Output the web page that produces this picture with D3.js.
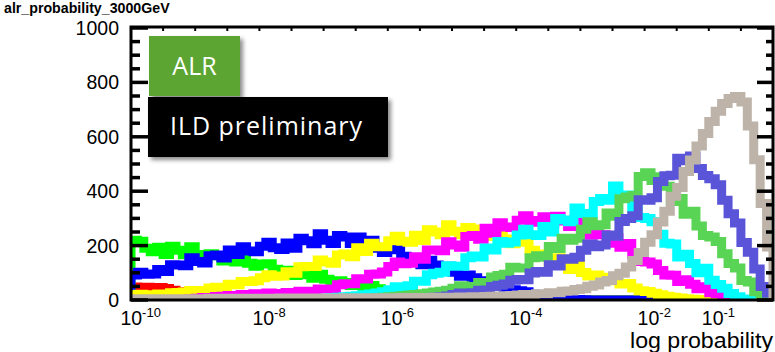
<!DOCTYPE html>
<html>
<head>
<meta charset="utf-8">
<script src="https://cdn.jsdelivr.net/npm/d3@7"></script>
<style>
  html, body { margin: 0; padding: 0; background: #fff; }
  svg { display: block; }
</style>
</head>
<body>
<script>
// Histogram binning in log10(probability): 100 bins of 0.1 decade
const binLow = -10.15;
const binWidth = 0.1;

// Bin contents, one array per sample (100 bins each)
const hRed = [
  48,44,47,43,46,42,36,30,24,21,
  19,17,16,14,13,12,10,9,8,7,
  6,5,4,3,3,2,2,1,1,0,
  0,0,0,0,0,0,0,0,0,0,
  0,0,0,0,0,0,0,0,0,0,
  0,0,0,0,0,0,0,0,0,0,
  0,0,0,0,0,0,0,0,0,0,
  0,0,0,0,0,0,0,0,0,0,
  0,0,0,0,0,0,0,0,0,0,
  0,0,0,0,0,0,0,0,0,0
];
const hGreen = [
  220,216,190,177,194,167,198,183,166,196,
  167,152,170,163,143,163,140,158,135,124,
  132,133,113,102,109,90,105,93,80,95,
  76,66,71,64,53,60,47,53,41,34,
  34,31,25,23,17,14,10,7,4,2,
  1,0,0,0,0,0,0,0,0,0,
  0,0,0,0,0,0,0,0,0,0,
  0,0,0,0,0,0,0,0,0,0,
  0,0,0,0,0,0,0,0,0,0,
  0,0,0,0,0,0,0,0,0,0
];
const hBlue = [
  92,102,95,96,112,105,130,129,126,155,
  142,136,163,165,154,184,167,196,180,177,
  198,212,192,186,210,190,227,218,207,244,
  220,208,237,232,208,232,200,220,190,175,
  185,187,161,147,155,130,146,129,113,124,
  102,87,92,82,68,71,57,57,46,38,
  34,30,21,19,13,11,7,5,3,2,
  1,0,0,0,0,0,0,0,0,0,
  0,0,0,0,0,0,0,0,0,0,
  0,0,0,0,0,0,0,0,0,0
];
const hYellow = [
  19,21,19,19,22,22,27,28,29,35,
  35,35,44,47,47,58,56,68,68,71,
  82,93,87,88,104,98,122,123,123,147,
  140,135,165,169,159,192,178,209,196,196,
  218,234,216,212,238,219,258,250,240,277,
  253,240,267,261,238,263,233,254,224,207,
  214,212,183,164,169,139,155,135,112,130,
  101,88,92,84,71,76,59,61,44,34,
  31,25,19,14,10,7,5,3,2,1,
  0,0,0,0,0,0,0,0,0,0
];
const hMagenta = [
  0,0,0,0,0,0,0,0,2,4,
  6,9,9,13,14,17,16,20,18,23,
  23,26,23,24,28,25,32,32,32,40,
  40,40,56,60,60,78,77,95,96,103,
  123,140,133,135,159,150,184,184,181,214,
  202,194,233,237,223,264,245,284,268,267,
  293,310,292,286,306,279,308,290,270,297,
  262,238,255,240,209,229,194,208,168,142,
  140,132,108,92,91,68,74,58,41,49,
  27,23,13,9,3,0,0,0,0,0
];
const hCyan = [
  0,0,0,0,0,0,0,0,0,0,
  0,0,0,0,0,0,0,0,0,0,
  0,0,0,0,0,0,0,0,2,4,
  6,8,10,12,14,16,19,22,26,30,
  38,49,48,52,69,69,93,98,102,126,
  124,124,155,162,158,191,184,215,209,213,
  239,260,240,237,270,250,300,294,288,338,
  318,314,362,373,367,419,375,386,336,303,
  300,288,242,209,206,158,168,134,100,117,
  73,57,43,24,12,4,0,0,0,0
];
const hGreen8 = [
  0,0,0,0,0,0,0,0,0,0,
  0,0,0,0,0,0,0,0,0,0,
  0,0,0,0,0,0,0,0,0,0,
  1,1,2,2,3,4,5,6,8,10,
  12,14,16,18,20,23,26,29,32,36,
  43,52,48,50,64,62,85,90,95,120,
  118,118,155,163,157,197,189,227,220,227,
  260,288,273,277,320,308,372,379,384,454,
  468,439,453,418,362,373,315,326,272,237,
  232,215,170,134,118,72,66,30,8,2
];
const hViolet = [
  0,0,0,0,0,0,0,0,0,0,
  0,0,0,0,0,0,0,0,0,0,
  0,0,0,0,0,0,0,0,0,0,
  0,0,0,0,0,0,0,0,0,0,
  1,2,3,4,5,6,8,10,12,15,
  20,26,25,27,36,37,50,54,59,73,
  75,74,99,105,102,130,125,152,150,157,
  183,206,196,202,239,234,289,300,310,369,
  367,376,436,457,459,521,512,529,483,458,
  446,424,367,317,283,211,176,114,50,25
];
const hTan = [
  4,5,4,5,4,5,5,4,5,5,
  5,5,6,5,6,5,6,6,5,6,
  6,6,6,7,6,7,6,7,7,6,
  7,7,7,8,7,8,8,7,8,8,
  8,8,9,8,9,9,9,10,9,10,
  10,11,11,12,12,13,14,15,16,17,
  18,20,20,23,23,27,27,32,33,39,
  41,51,55,66,72,89,98,121,145,175,
  212,240,287,326,381,414,472,515,566,612,
  656,694,722,741,748,728,640,516,355,195
];

// Drawing order and colours
const histograms = [hRed, hGreen, hBlue, hYellow, hMagenta, hCyan, hGreen8, hViolet, hTan];
const lineColors = ["#ff0000", "#00ff00", "#0000ff", "#ffff00", "#ff00ff", "#00ffff", "#59d454", "#5954d8", "#bdb3a8"];

// Axis ticks
const xTickExponents = [-10, -8, -6, -4, -2, -1];
const yMajorTicks = [0, 200, 400, 600, 800, 1000];
const yMinorTicks = d3.range(0, 1001, 50);

const W = 775, H = 352;
const frame = { left: 131, right: 773, top: 27, bottom: 300 };

const svg = d3.select("body").append("svg")
  .attr("width", W).attr("height", H)
  .attr("viewBox", `0 0 ${W} ${H}`);

const x = d3.scaleLinear().domain([binLow, binLow + 100 * binWidth]).range([frame.left, frame.right]);
const y = d3.scaleLinear().domain([0, 1000]).range([frame.bottom, 28]);

const defs = svg.append("defs");
defs.append("clipPath").attr("id", "plotClip")
  .append("rect")
  .attr("x", frame.left).attr("y", frame.top)
  .attr("width", frame.right - frame.left).attr("height", frame.bottom - frame.top);

const shadow = defs.append("filter").attr("id", "boxShadow")
  .attr("x", "-10%").attr("y", "-10%").attr("width", "130%").attr("height", "140%");
shadow.append("feDropShadow")
  .attr("dx", 3).attr("dy", 3).attr("stdDeviation", 2.2)
  .attr("flood-color", "#000").attr("flood-opacity", 0.45);

// Histogram outlines as thick step lines
const step = d3.line().curve(d3.curveStepAfter).x(d => x(d[0])).y(d => y(d[1]));
const plotG = svg.append("g").attr("clip-path", "url(#plotClip)");
histograms.forEach((h, k) => {
  const n = h.length;
  const pts = [[binLow, 0]];
  h.forEach((v, i) => pts.push([binLow + i * binWidth, v]));
  pts.push([binLow + n * binWidth, h[n - 1]]);
  pts.push([binLow + n * binWidth, 0]);
  plotG.append("path")
    .attr("d", step(pts))
    .attr("fill", "none")
    .attr("stroke", lineColors[k])
    .attr("stroke-width", 9)
    .attr("stroke-linejoin", "miter");
});

// Frame
const axisG = svg.append("g");
axisG.append("rect")
  .attr("x", frame.left).attr("y", frame.top)
  .attr("width", frame.right - frame.left).attr("height", frame.bottom - frame.top)
  .attr("fill", "none").attr("stroke", "#000").attr("stroke-width", 3);

// Y ticks on left and right
yMinorTicks.forEach(v => {
  const major = yMajorTicks.includes(v);
  axisG.append("line")
    .attr("x1", frame.left).attr("x2", frame.left + (major ? 17 : 9))
    .attr("y1", y(v)).attr("y2", y(v))
    .attr("stroke", "#000").attr("stroke-width", 3.5);
  axisG.append("line")
    .attr("x1", frame.right).attr("x2", frame.right - (major ? 16 : 7))
    .attr("y1", y(v)).attr("y2", y(v))
    .attr("stroke", "#000").attr("stroke-width", 3.5);
});

// Small ticks along the top edge
d3.range(-9.65, -0.5, 0.5).forEach(v => {
  axisG.append("line")
    .attr("x1", x(v)).attr("x2", x(v))
    .attr("y1", frame.top).attr("y2", frame.top + 4)
    .attr("stroke", "#000").attr("stroke-width", 2);
});

// Y tick labels
svg.append("g").selectAll("text").data(yMajorTicks).join("text")
  .attr("x", 119).attr("y", d => y(d)).attr("dy", "0.36em")
  .attr("text-anchor", "end")
  .attr("font-family", "'Liberation Sans', Arial, Helvetica, sans-serif")
  .attr("font-size", 19.5).attr("fill", "#000")
  .text(d => d);

// X tick labels: 10^n
const xl = svg.append("g").selectAll("text").data(xTickExponents).join("text")
  .attr("x", d => x(d)).attr("y", 324.5)
  .attr("text-anchor", "middle")
  .attr("font-family", "'Liberation Sans', Arial, Helvetica, sans-serif")
  .attr("font-size", 19.5).attr("fill", "#000");
xl.append("tspan").text("10");
xl.append("tspan").attr("font-size", 13).attr("dy", -8).text(d => "-" + Math.abs(d));

// Axis title
svg.append("text")
  .attr("x", 773).attr("y", 348).attr("text-anchor", "end")
  .attr("font-family", "'Liberation Sans', Arial, Helvetica, sans-serif")
  .attr("font-size", 21.5).attr("fill", "#000")
  .attr("textLength", 143).attr("lengthAdjust", "spacingAndGlyphs")
  .text("log probability");

// Histogram title
svg.append("text")
  .attr("x", 4).attr("y", 13)
  .attr("font-family", "'Liberation Sans', Arial, Helvetica, sans-serif")
  .attr("font-weight", "bold").attr("font-size", 14.2).attr("fill", "#000")
  .text("alr_probability_3000GeV");

// Label boxes
svg.append("rect")
  .attr("x", 149).attr("y", 36).attr("width", 91).attr("height", 60)
  .attr("fill", "#5ba532").attr("filter", "url(#boxShadow)");
svg.append("text")
  .attr("x", 194.5).attr("y", 75).attr("text-anchor", "middle")
  .attr("font-family", "'Open Sans', 'Noto Sans', sans-serif")
  .attr("font-size", 25).attr("fill", "#fff")
  .text("ALR");

svg.append("rect")
  .attr("x", 148).attr("y", 97).attr("width", 240).attr("height", 60)
  .attr("fill", "#000").attr("filter", "url(#boxShadow)");
svg.append("text")
  .attr("x", 266).attr("y", 135).attr("text-anchor", "middle")
  .attr("font-family", "'Open Sans', 'Noto Sans', sans-serif")
  .attr("font-size", 25).attr("fill", "#fff")
  .attr("textLength", 192).attr("lengthAdjust", "spacing")
  .text("ILD preliminary");
</script>
</body>
</html>
